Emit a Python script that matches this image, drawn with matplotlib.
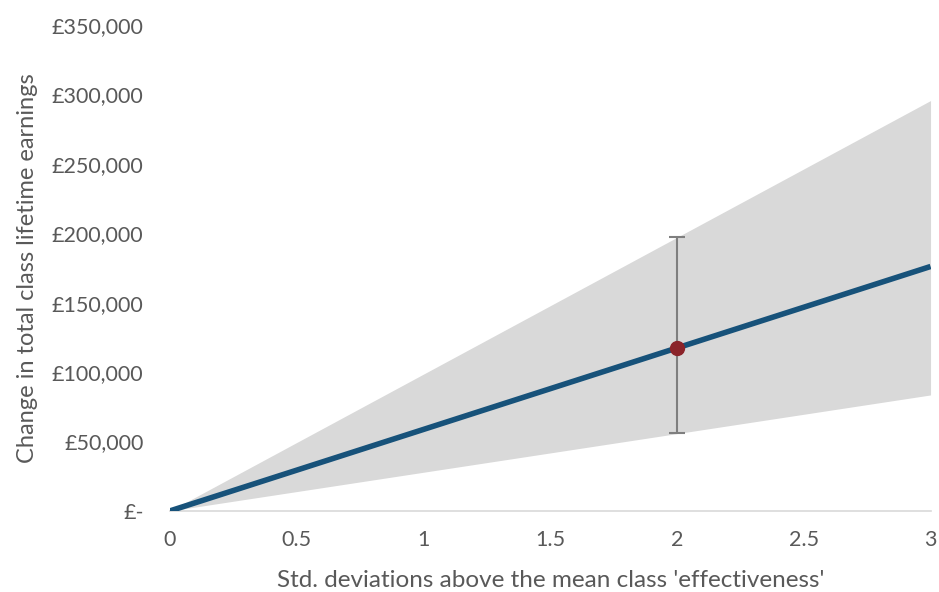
import matplotlib
matplotlib.use("Agg")
import matplotlib.pyplot as plt
from matplotlib.ticker import FuncFormatter

# Data
sd_x = [0, 3]
central = [0, 176000]
upper = [0, 295500]
lower = [0, 83500]
point_x = [2]
point_y = [117500]
err_low = [56000]
err_high = [197000]
x_ticks = [0, 0.5, 1, 1.5, 2, 2.5, 3]
x_tick_labels = ["0", "0.5", "1", "1.5", "2", "2.5", "3"]
y_ticks = [0, 50000, 100000, 150000, 200000, 250000, 300000, 350000]

plt.rcParams['font.family'] = ['Lato', 'DejaVu Sans']
text_col = "#595959"

fig = plt.figure(figsize=(9.39, 5.92), dpi=100)
ax = fig.add_axes([0.181, 0.137, 0.81, 0.821])

ax.fill_between(sd_x, lower, upper, color="#d9d9d9", linewidth=0, zorder=1)
ax.plot(sd_x, central, color="#17527a", linewidth=4, solid_capstyle="butt", zorder=3)
yerr = [[point_y[0] - err_low[0]], [err_high[0] - point_y[0]]]
ax.errorbar(point_x, point_y, yerr=yerr, fmt="none", ecolor="#7f7f7f",
            elinewidth=1.5, capsize=6, capthick=1.5, zorder=2)
ax.plot(point_x, point_y, "o", color="#8b2329", markersize=10, zorder=4)

ax.set_xlim(0, 3)
ax.set_ylim(0, 350000)
ax.set_xticks(x_ticks)
ax.set_xticklabels(x_tick_labels)
ax.set_yticks(y_ticks)

def fmt(v, pos):
    if v == 0:
        return "£-"
    return "£{:,.0f}".format(v)
ax.yaxis.set_major_formatter(FuncFormatter(fmt))

for s in ["top", "left", "right"]:
    ax.spines[s].set_visible(False)
ax.spines["bottom"].set_color("#d9d9d9")
ax.spines["bottom"].set_linewidth(1.2)
ax.tick_params(axis="both", length=0, labelsize=15.5, colors=text_col)
ax.tick_params(axis="x", pad=14)
ax.tick_params(axis="y", pad=19)

ax.set_xlabel("Std. deviations above the mean class 'effectiveness'", fontsize=17.5,
              color=text_col, labelpad=14)
ax.set_ylabel("Change in total class lifetime earnings", fontsize=17,
              color=text_col, labelpad=10)

fig.savefig("out.png", dpi=100)
